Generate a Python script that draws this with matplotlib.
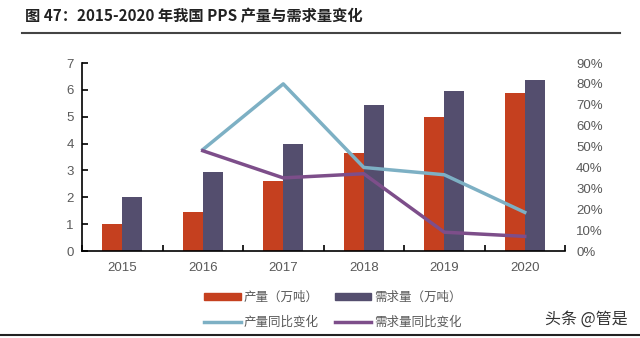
import matplotlib
matplotlib.use('agg')
import matplotlib.pyplot as plt
from matplotlib.lines import Line2D
from matplotlib.patches import Patch
import numpy as np

plt.rcParams['font.family'] = ['Liberation Sans', 'Noto Sans CJK SC', 'DejaVu Sans']

# data
years = ['2015', '2016', '2017', '2018', '2019', '2020']
production = [1.0, 1.45, 2.6, 3.65, 5.0, 5.9]      # 万吨
demand = [2.0, 2.95, 4.0, 5.45, 5.95, 6.35]        # 万吨
prod_yoy = [None, 48.5, 80.0, 40.0, 36.5, 18.5]    # %
dem_yoy = [None, 48.0, 35.0, 37.0, 9.0, 7.0]       # %

c_prod = '#C5401F'
c_dem = '#544E6E'
c_prod_l = '#7DB0C4'
c_dem_l = '#7D4E8A'
txt = '#595959'

fig = plt.figure(figsize=(6.4, 3.38), dpi=100)
ax = fig.add_axes([82/640, 1-251/338, (565-82)/640, (251-63)/338])
ax2 = ax.twinx()

x = np.arange(len(years))
w = 0.25
ax.bar(x - w/2, production, w, color=c_prod, zorder=2)
ax.bar(x + w/2, demand, w, color=c_dem, zorder=2)

xi = [i for i, v in enumerate(prod_yoy) if v is not None]
ax2.plot(xi, [prod_yoy[i] for i in xi], color=c_prod_l, lw=2.5)
xi = [i for i, v in enumerate(dem_yoy) if v is not None]
ax2.plot(xi, [dem_yoy[i] for i in xi], color=c_dem_l, lw=2.5)

ax.set_xlim(-0.5, len(years) - 0.5)
ax.set_ylim(0, 7)
ax.set_yticks(range(0, 8))
ax2.set_ylim(0, 90)
ax2.set_yticks(range(0, 91, 10))
ax2.set_yticklabels([f'{v}%' for v in range(0, 91, 10)])

ax.set_xticks(x)
ax.set_xticklabels(years)
ax.set_xticks(np.arange(-0.5, len(years), 1), minor=True)
ax.tick_params(axis='x', which='major', length=0, pad=8, labelsize=9.5, labelcolor=txt)
ax.tick_params(axis='x', which='minor', direction='in', length=4, width=1.2)
ax.tick_params(axis='y', direction='in', length=4, width=1.2, labelsize=9.5, labelcolor=txt, pad=6)
ax2.tick_params(axis='y', length=0, labelsize=9.5, labelcolor=txt, pad=8)

for a in (ax, ax2):
    a.spines['top'].set_visible(False)
    a.spines['right'].set_visible(False)
ax2.spines['left'].set_visible(False)
ax2.spines['bottom'].set_visible(False)
ax.spines['left'].set_linewidth(1.2)
ax.spines['bottom'].set_linewidth(1.2)

# column-wise fill: col 1 = production, col 2 = demand
handles = [Patch(color=c_prod), Line2D([], [], color=c_prod_l, lw=2.5),
           Patch(color=c_dem), Line2D([], [], color=c_dem_l, lw=2.5)]
labels = ['产量（万吨）', '产量同比变化', '需求量（万吨）', '需求量同比变化']
fig.legend(handles, labels, ncol=2, loc='center left', bbox_to_anchor=(193/640, 1-310/338),
           frameon=False, labelcolor=txt, handlelength=2.9, handleheight=0.55,
           handletextpad=0.25, columnspacing=1.3, labelspacing=0.95,
           prop={'family': ['Noto Sans CJK SC'], 'size': 9})

fig.text(25/640, 1-16/338, '图 47：2015-2020 年我国 PPS 产量与需求量变化', fontsize=11,
         fontweight='bold', va='center', ha='left', family=['Noto Sans CJK SC'], color='#222222')
fig.add_artist(Line2D([22/640, 620/640], [1-33/338, 1-33/338], color='#444444', lw=1.5))
fig.add_artist(Line2D([0, 1], [1-335/338, 1-335/338], color='#222222', lw=1.5))
fig.text(628/640, 1-319/338, '头条 @管是', fontsize=11.5, ha='right', va='center',
         family=['Noto Sans CJK SC'], color='#333333')

plt.savefig('out.png', dpi=100)
